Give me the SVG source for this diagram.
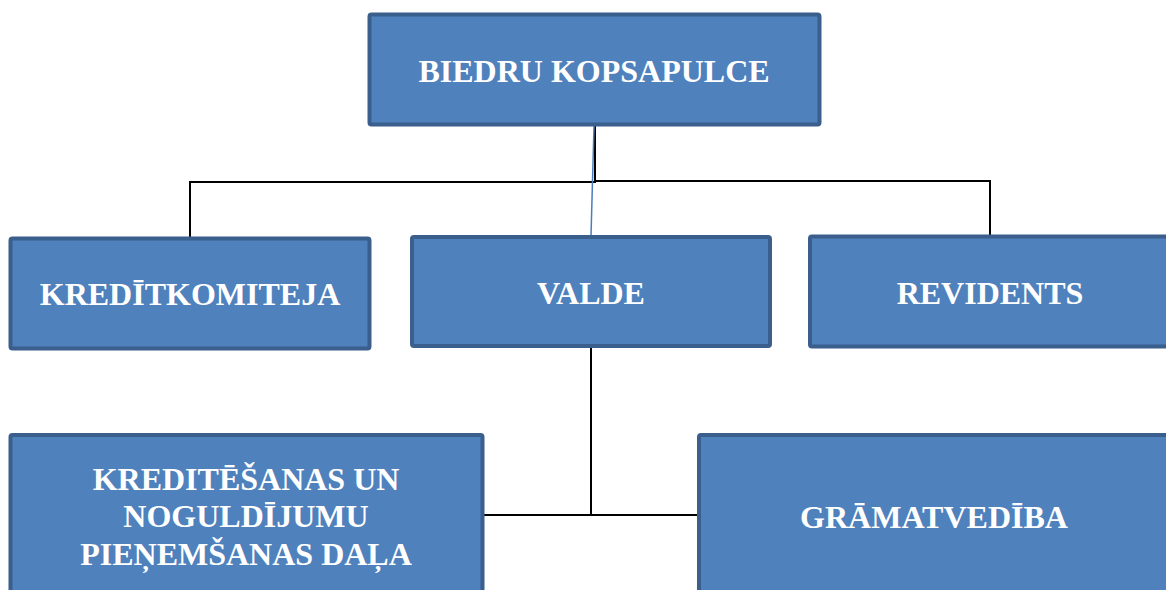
<svg xmlns="http://www.w3.org/2000/svg" width="1166" height="590" viewBox="0 0 1166 590">
<style>
.box{fill:#4f81bd;stroke:#3a5f8d;stroke-width:4}
.t{font-family:"Liberation Serif","Times New Roman",serif;font-weight:bold;font-size:32px;fill:#ffffff;text-anchor:middle}
.c{fill:none;stroke:#000;stroke-width:2}
</style>
<g id="connectors">
<path class="c" d="M190,237 V182 H595 V126"/>
<path class="c" d="M595,181 H990 V236"/>
<line x1="594" y1="126" x2="591" y2="236" stroke="#4a7ebb" stroke-width="1.5"/>
<path class="c" d="M591,348 V515"/>
<path class="c" d="M484,515 H697"/>
</g>
<g id="n-kopsapulce">
<rect class="box" x="369.5" y="14.5" width="450" height="110" rx="2"/>
<text class="t" x="594" y="82">BIEDRU KOPSAPULCE</text>
</g>
<g id="n-kreditkomiteja">
<rect class="box" x="10.5" y="238.5" width="359" height="110" rx="2"/>
<text class="t" x="190" y="305">KREDĪTKOMITEJA</text>
</g>
<g id="n-valde">
<rect class="box" x="412" y="237" width="358" height="109" rx="2"/>
<text class="t" x="591" y="304">VALDE</text>
</g>
<g id="n-revidents">
<rect class="box" x="810" y="236.5" width="362" height="110" rx="2"/>
<text class="t" x="990" y="304">REVIDENTS</text>
</g>
<g id="n-kreditesanas">
<rect class="box" x="10.5" y="435" width="472" height="170" rx="2"/>
<text class="t" x="246" y="490">KREDITĒŠANAS UN</text>
<text class="t" x="246" y="527">NOGULDĪJUMU</text>
<text class="t" x="246" y="565">PIEŅEMŠANAS DAĻA</text>
</g>
<g id="n-gramatvediba">
<rect class="box" x="699" y="435" width="476" height="170" rx="2"/>
<text class="t" x="934" y="528">GRĀMATVEDĪBA</text>
</g>
</svg>
